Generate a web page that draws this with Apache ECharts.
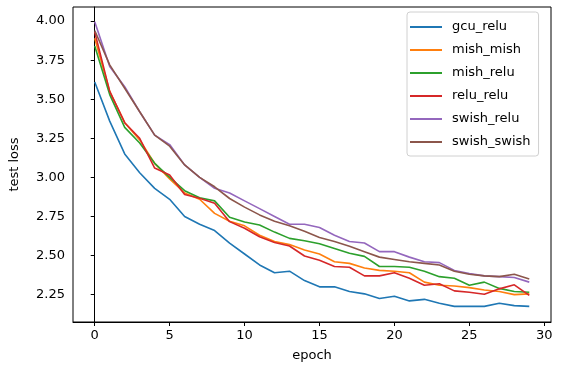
<!DOCTYPE html>
<html>
<head>
<meta charset="utf-8">
<script src="https://cdn.jsdelivr.net/npm/echarts@6/dist/echarts.min.js"></script>
<style>
  html, body { margin: 0; padding: 0; background: #fff; }
  #chart { width: 563px; height: 373px; }
</style>
</head>
<body>
<div id="chart"></div>
<script>
// epochs 0..29
const epochs = [0,1,2,3,4,5,6,7,8,9,10,11,12,13,14,15,16,17,18,19,20,21,22,23,24,25,26,27,28,29];
const xTicks = [0, 5, 10, 15, 20, 25, 30];
const yTicks = [2.25, 2.5, 2.75, 3.0, 3.25, 3.5, 3.75, 4.0];

const seriesNames = ["gcu_relu", "mish_mish", "mish_relu", "relu_relu", "swish_relu", "swish_swish"];
const gcuRelu = [3.61, 3.36, 3.15, 3.03, 2.93, 2.86, 2.75, 2.70, 2.66, 2.58, 2.51, 2.44, 2.39, 2.40, 2.34, 2.30, 2.30, 2.27, 2.255, 2.225, 2.24, 2.21, 2.22, 2.195, 2.175, 2.175, 2.175, 2.195, 2.18, 2.175];
const mishMish = [3.89, 3.55, 3.35, 3.24, 3.09, 2.99, 2.90, 2.86, 2.77, 2.72, 2.69, 2.63, 2.59, 2.57, 2.535, 2.51, 2.46, 2.45, 2.42, 2.405, 2.40, 2.39, 2.33, 2.31, 2.305, 2.295, 2.28, 2.27, 2.25, 2.255];
const mishRelu = [3.84, 3.53, 3.32, 3.22, 3.09, 3.00, 2.915, 2.87, 2.85, 2.745, 2.715, 2.695, 2.65, 2.61, 2.595, 2.575, 2.545, 2.515, 2.495, 2.43, 2.43, 2.425, 2.40, 2.365, 2.355, 2.31, 2.33, 2.29, 2.27, 2.265];
const reluRelu = [3.93, 3.55, 3.35, 3.25, 3.06, 3.015, 2.89, 2.866, 2.834, 2.717, 2.675, 2.62, 2.583, 2.561, 2.497, 2.47, 2.43, 2.425, 2.37, 2.37, 2.39, 2.355, 2.31, 2.32, 2.274, 2.265, 2.253, 2.287, 2.313, 2.245];
const swishRelu = [3.996, 3.71, 3.58, 3.42, 3.27, 3.21, 3.08, 3.00, 2.93, 2.90, 2.85, 2.80, 2.75, 2.70, 2.70, 2.68, 2.63, 2.59, 2.58, 2.525, 2.525, 2.49, 2.46, 2.455, 2.405, 2.385, 2.37, 2.365, 2.36, 2.33];
const swishSwish = [3.94, 3.72, 3.57, 3.42, 3.27, 3.20, 3.08, 3.00, 2.94, 2.865, 2.81, 2.76, 2.72, 2.69, 2.655, 2.615, 2.59, 2.56, 2.525, 2.49, 2.475, 2.46, 2.45, 2.44, 2.40, 2.38, 2.37, 2.365, 2.38, 2.35];

const allValues = [gcuRelu, mishMish, mishRelu, reluRelu, swishRelu, swishSwish];
const colors = ["#1f77b4", "#ff7f0e", "#2ca02c", "#d62728", "#9467bd", "#8c564b"];

const font = "DejaVu Sans";

const chart = echarts.init(document.getElementById("chart"), null, { renderer: "canvas" });

const series = seriesNames.map((name, i) => ({
  name,
  type: "line",
  showSymbol: false,
  symbol: "none",
  color: colors[i],
  lineStyle: { width: 1.6, color: colors[i] },
  data: epochs.map((e, j) => [e, allValues[i][j]]),
  animation: false,
}));

chart.setOption({
  backgroundColor: "#fff",
  animation: false,
  grid: {
    left: 71,
    right: 12,
    top: 7,
    bottom: 51,
    show: true,
    borderColor: "#000",
    borderWidth: 1,
  },
  legend: {
    orient: "vertical",
    left: 407,
    top: 12,
    padding: [7, 8, 6, 3],
    itemGap: 7,
    itemWidth: 32,
    itemHeight: 2,
    icon: "rect",
    borderColor: "#d0d0d0",
    borderWidth: 1,
    borderRadius: 3,
    textStyle: {
      fontFamily: font,
      fontSize: 13,
      color: "#000",
      lineHeight: 16,
      padding: [0, 0, 0, 5],
    },
    data: seriesNames,
  },
  xAxis: {
    type: "value",
    min: -1.45,
    max: 30.45,
    name: "epoch",
    nameLocation: "middle",
    nameGap: 27,
    nameTextStyle: { fontFamily: font, fontSize: 13, color: "#000" },
    axisLine: { show: true, lineStyle: { color: "#000", width: 1 } },
    axisTick: { show: true, length: 4, inside: false, customValues: xTicks, lineStyle: { color: "#000" } },
    axisLabel: { customValues: xTicks, fontFamily: font, fontSize: 13, color: "#000", margin: 7 },
    splitLine: { show: false },
  },
  yAxis: {
    type: "value",
    min: 2.075,
    max: 4.09,
    name: "test loss",
    nameLocation: "middle",
    nameGap: 52,
    nameRotate: 90,
    nameTextStyle: { fontFamily: font, fontSize: 13, color: "#000" },
    axisLine: { show: true, lineStyle: { color: "#000", width: 1 } },
    axisTick: { show: true, length: 4, inside: false, customValues: yTicks, lineStyle: { color: "#000" } },
    axisLabel: {
      customValues: yTicks,
      fontFamily: font,
      fontSize: 13,
      color: "#000",
      margin: 8,
      formatter: (v) => v.toFixed(2),
    },
    splitLine: { show: false },
  },
  series,
});
</script>
</body>
</html>
